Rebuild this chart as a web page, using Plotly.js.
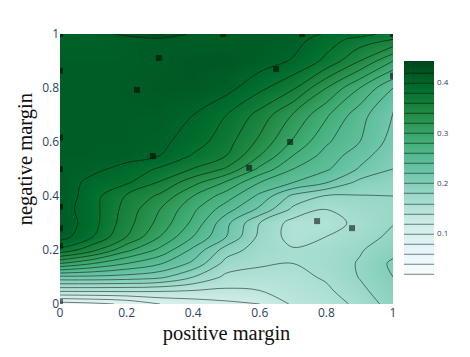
<!DOCTYPE html>
<html>
<head>
<meta charset="utf-8">
<script src="https://cdn.plot.ly/plotly-3.0.1.min.js"></script>
<style>body { margin: 0; background: #fff; }</style>
</head>
<body>
<div id="chart" style="width:470px;height:357px;"></div>
<script>
const posMargin = [0, 0.1, 0.2, 0.3, 0.4, 0.5, 0.6, 0.7, 0.8, 0.9, 1];
const negMargin = [0, 0.05, 0.1, 0.15, 0.2, 0.25, 0.3, 0.35, 0.4, 0.45, 0.5, 0.55, 0.6, 0.7, 0.8, 0.9, 0.98, 1];
// one row per negMargin value
const score = [
    [0.07, 0.075, 0.083, 0.1, 0.108, 0.115, 0.12, 0.143, 0.15, 0.165, 0.19],
    [0.145, 0.145, 0.145, 0.143, 0.14, 0.137, 0.14, 0.148, 0.156, 0.175, 0.194],
    [0.215, 0.215, 0.212, 0.205, 0.18, 0.155, 0.152, 0.153, 0.163, 0.181, 0.2],
    [0.3, 0.28, 0.26, 0.242, 0.215, 0.172, 0.163, 0.16, 0.167, 0.182, 0.204],
    [0.375, 0.345, 0.305, 0.275, 0.235, 0.19, 0.17, 0.162, 0.166, 0.178, 0.193],
    [0.41, 0.38, 0.34, 0.3, 0.26, 0.22, 0.175, 0.152, 0.16, 0.17, 0.185],
    [0.415, 0.387, 0.348, 0.313, 0.275, 0.225, 0.18, 0.152, 0.152, 0.165, 0.179],
    [0.41, 0.387, 0.352, 0.32, 0.284, 0.248, 0.215, 0.175, 0.16, 0.17, 0.177],
    [0.415, 0.387, 0.358, 0.336, 0.3, 0.27, 0.235, 0.195, 0.178, 0.179, 0.18],
    [0.412, 0.393, 0.383, 0.358, 0.327, 0.297, 0.26, 0.24, 0.221, 0.194, 0.186],
    [0.41, 0.405, 0.393, 0.377, 0.359, 0.337, 0.295, 0.26, 0.243, 0.218, 0.2],
    [0.41, 0.41, 0.408, 0.4, 0.378, 0.36, 0.32, 0.28, 0.252, 0.228, 0.206],
    [0.41, 0.41, 0.41, 0.405, 0.39, 0.368, 0.335, 0.297, 0.263, 0.24, 0.212],
    [0.41, 0.41, 0.41, 0.41, 0.4, 0.38, 0.353, 0.318, 0.283, 0.248, 0.218],
    [0.41, 0.41, 0.412, 0.415, 0.415, 0.407, 0.385, 0.363, 0.32, 0.28, 0.24],
    [0.41, 0.41, 0.41, 0.413, 0.416, 0.417, 0.41, 0.398, 0.375, 0.34, 0.3],
    [0.405, 0.405, 0.41, 0.414, 0.41, 0.41, 0.413, 0.408, 0.39, 0.372, 0.36],
    [0.405, 0.41, 0.425, 0.44, 0.415, 0.41, 0.415, 0.41, 0.398, 0.39, 0.37]
];
const sampleX = [0.297, 0.231, 0.279, 0.649, 0.568, 0.691, 0.772, 0.877, 0.49, 0.727, 1, 0, 0, 0, 0, 0, 0, 0, 0, 1];
const sampleY = [0.911, 0.793, 0.548, 0.87, 0.504, 0.6, 0.307, 0.281, 1, 1, 0.845, 0.864, 0.616, 0.5, 0.36, 0.28, 0.216, 0.007, 1, 1];

const bugn = [
    [0, '#f7fcfd'], [0.125, '#e5f5f9'], [0.25, '#ccece6'], [0.375, '#99d8c9'], [0.5, '#66c2a4'],
    [0.625, '#41ae76'], [0.75, '#238b45'], [0.875, '#006d2c'], [1, '#00441b']
];

const traces = [
    {
        type: 'contour',
        x: posMargin,
        y: negMargin,
        z: score,
        zmin: 0.018,
        zmax: 0.443,
        colorscale: bugn,
        contours: {coloring: 'heatmap', start: 0.02, end: 0.42, size: 0.02},
        colorbar: {
            thickness: 30,
            lenmode: 'pixels',
            len: 214,
            x: 1.033,
            xanchor: 'left',
            xpad: 0,
            y: 0.504,
            yanchor: 'middle',
            ypad: 0,
            outlinewidth: 0,
            tickvals: [0.1, 0.2, 0.3, 0.4],
            ticklen: 2,
            tickcolor: 'rgba(0,0,0,0)',
            tickfont: {size: 8, color: '#2a3f5f'}
        }
    },
    {
        type: 'scatter',
        mode: 'markers',
        x: sampleX,
        y: sampleY,
        marker: {symbol: 'square', size: 6, color: '#000', opacity: 0.55},
        showlegend: false
    }
];

const layout = {
    width: 470,
    height: 357,
    margin: {l: 60, r: 77, t: 34, b: 53},
    paper_bgcolor: '#fff',
    plot_bgcolor: '#fff',
    showlegend: false,
    font: {color: '#2a3f5f'},
    xaxis: {
        range: [0, 1],
        showgrid: false,
        zeroline: false,
        ticks: '',
        tickvals: [0, 0.2, 0.4, 0.6, 0.8, 1],
        ticktext: ['0', '0.2', '0.4', '0.6', '0.8', '1'],
        title: {text: 'positive margin', font: {family: 'Liberation Serif', size: 20.5, color: '#111'}, standoff: 5}
    },
    yaxis: {
        range: [0, 1],
        showgrid: false,
        zeroline: false,
        ticks: '',
        tickvals: [0, 0.2, 0.4, 0.6, 0.8, 1],
        ticktext: ['0', '0.2', '0.4', '0.6', '0.8', '1']
    },
    // y title sits above the plot centre in the reference, so it is placed by hand
    annotations: [{
        text: 'negative margin',
        font: {family: 'Liberation Serif', size: 20.5, color: '#111'},
        textangle: -90,
        showarrow: false,
        xref: 'paper',
        yref: 'paper',
        x: -0.105,
        y: 0.536,
        xanchor: 'center',
        yanchor: 'middle'
    }]
};

Plotly.newPlot('chart', traces, layout, {displayModeBar: false});
</script>
</body>
</html>
